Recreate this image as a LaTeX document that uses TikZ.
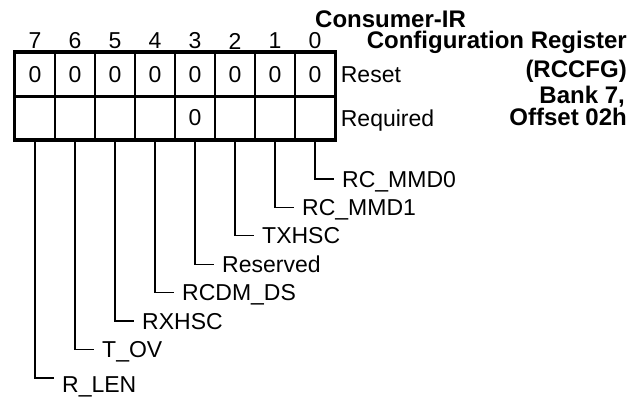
\documentclass[tikz,border=0pt]{standalone}
\usepackage{fontspec}
\setmainfont{Liberation Sans}
\usetikzlibrary{positioning}

\begin{document}
\begin{tikzpicture}[
        x=1pt, y=-1pt,
        cell/.style={rectangle, draw, line width=1.3pt, minimum width=40pt, minimum height=43.5pt, inner sep=0pt, font=\fontsize{23}{26}\selectfont},
        bitnum/.style={inner sep=0pt, font=\fontsize{23}{26}\selectfont},
        fld/.style={anchor=west, inner xsep=8pt, inner ysep=0pt, text depth=0pt, font=\fontsize{23}{26}\selectfont},
        lead/.style={line width=1.3pt},
        ttl/.style={anchor=east, inner sep=0pt, text depth=0pt, font=\fontsize{24}{28}\selectfont\bfseries}
    ]
        \useasboundingbox (0,0) rectangle (639,396);

        % bit numbers
        \node[bitnum] (b7) at (35,41) {7};
        \node[bitnum] (b6) at (75,41) {6};
        \node[bitnum] (b5) at (115,41) {5};
        \node[bitnum] (b4) at (155,41) {4};
        \node[bitnum] (b3) at (195,41) {3};
        \node[bitnum] (b2) at (235,41) {2};
        \node[bitnum] (b1) at (275,41) {1};
        \node[bitnum] (b0) at (315,41) {0};

        % reset row
        \node[cell] (rst7) at (35,74.25) {0};
        \node[cell] (rst6) at (75,74.25) {0};
        \node[cell] (rst5) at (115,74.25) {0};
        \node[cell] (rst4) at (155,74.25) {0};
        \node[cell] (rst3) at (195,74.25) {0};
        \node[cell] (rst2) at (235,74.25) {0};
        \node[cell] (rst1) at (275,74.25) {0};
        \node[cell] (rst0) at (315,74.25) {0};

        % required row
        \node[cell] (req7) at (35,117.75) {};
        \node[cell] (req6) at (75,117.75) {};
        \node[cell] (req5) at (115,117.75) {};
        \node[cell] (req4) at (155,117.75) {};
        \node[cell] (req3) at (195,117.75) {0};
        \node[cell] (req2) at (235,117.75) {};
        \node[cell] (req1) at (275,117.75) {};
        \node[cell] (req0) at (315,117.75) {};

        \draw[line width=3.5pt] (rst7.north west) rectangle (req0.south east);
        \draw[line width=3.5pt] (rst7.south west) -- (rst0.south east);

        \node[fld, inner xsep=5pt, right=0pt of rst0] (reset) {Reset};
        \node[fld, inner xsep=5pt, right=0pt of req0] (required) {Required};

        % title
        \node[ttl, anchor=west] (ttl1) at (315,19) {Consumer-IR};
        \node[ttl] (ttl2) at (627,40) {Configuration Register};
        \node[ttl] (ttl3) at (627,69) {(RCCFG)};
        \node[ttl] (ttl4) at (625,95) {Bank 7,};
        \node[ttl] (ttl5) at (627,117) {Offset 02h};

        % field names
        \node[fld] (f0) at (334,179) {RC\_MMD0};
        \node[fld] (f1) at (294,207.4) {RC\_MMD1};
        \node[fld] (f2) at (254,235.8) {TXHSC};
        \node[fld] (f3) at (214,264.2) {Reserved};
        \node[fld] (f4) at (174,292.6) {RCDM\_DS};
        \node[fld] (f5) at (134,321) {RXHSC};
        \node[fld] (f6) at (94,349.4) {T\_OV};
        \coordinate (e7) at (54,378);
        \node[fld] (f7) at (54,384.5) {R\_LEN};

        \draw[lead] (req0.south) |- (f0.west);
        \draw[lead] (req1.south) |- (f1.west);
        \draw[lead] (req2.south) |- (f2.west);
        \draw[lead] (req3.south) |- (f3.west);
        \draw[lead] (req4.south) |- (f4.west);
        \draw[lead] (req5.south) |- (f5.west);
        \draw[lead] (req6.south) |- (f6.west);
        \draw[lead] (req7.south) |- (e7);
    \end{tikzpicture}
\end{document}
